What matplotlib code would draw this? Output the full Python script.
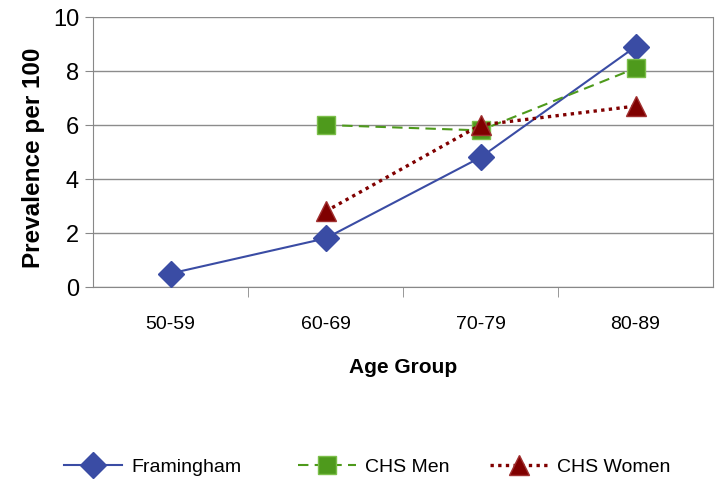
import matplotlib
matplotlib.use('Agg')
import matplotlib.pyplot as plt
import numpy as np

plt.rcParams['font.family'] = ['Liberation Sans', 'DejaVu Sans']

# age groups and prevalence per 100
age_groups = ['50-59', '60-69', '70-79', '80-89']
framingham = [0.5, 1.8, 4.8, 8.9]
chs_men = [np.nan, 6.0, 5.8, 8.1]
chs_women = [np.nan, 2.8, 6.0, 6.7]

fig = plt.figure(figsize=(7.17, 4.83), dpi=100)
ax = fig.add_axes([93 / 717, 1 - 287 / 483, 620 / 717, 270 / 483])

x = np.arange(len(age_groups))

l1, = ax.plot(x, framingham, color='#3a4ca4', lw=1.5, marker='D', ms=13,
              mec='#3a4ca4', label='Framingham', zorder=3)
l2, = ax.plot(x, chs_men, color='#4e9a1c', lw=1.5, ls=(0, (5, 3)), marker='s', ms=13.5,
              mec='#7cbf4a', label='CHS Men', zorder=3)
l3, = ax.plot(x, chs_women, color='#800000', lw=2.4, ls=(0, (1, 1.3)), marker='^', ms=15,
              mec='#a03030', label='CHS Women', zorder=4)

ax.set_xlim(-0.5, 3.5)
ax.set_ylim(0, 10)
ax.set_yticks(range(0, 11, 2))
ax.set_yticklabels([str(v) for v in range(0, 11, 2)], fontsize=17)
ax.set_xticks(x)
ax.set_xticklabels(age_groups, fontsize=14)
ax.tick_params(axis='x', length=0, pad=21)
ax.set_xticks(np.arange(0.5, 3.5, 1), minor=True)
ax.tick_params(axis='x', which='minor', length=7, color='#888888', direction='out')
ax.tick_params(axis='y', length=6, color='#888888', pad=4)

ax.yaxis.grid(True, color='#8c8c8c', lw=1)
ax.set_axisbelow(True)
ax.spines['top'].set_visible(False)
for side in ['left', 'bottom', 'right']:
    ax.spines[side].set_color('#888888')

ax.set_ylabel('Prevalence per 100', fontsize=17.5, fontweight='bold')
ax.yaxis.set_label_coords(-48 / 620, 0.48)
ax.set_xlabel('Age Group', fontsize=15, fontweight='bold', labelpad=18)

# one legend per entry so each sits where it should along the bottom
for handle, x_left in zip([l1, l2, l3], [64, 298, 490]):
    fig.legend(handles=[handle], loc='center left',
               bbox_to_anchor=(x_left / 717, 1 - 467 / 483), frameon=False,
               fontsize=14, handlelength=3.0, handletextpad=0.45, numpoints=1,
               borderpad=0, borderaxespad=0)

fig.savefig('out.png', dpi=100)
